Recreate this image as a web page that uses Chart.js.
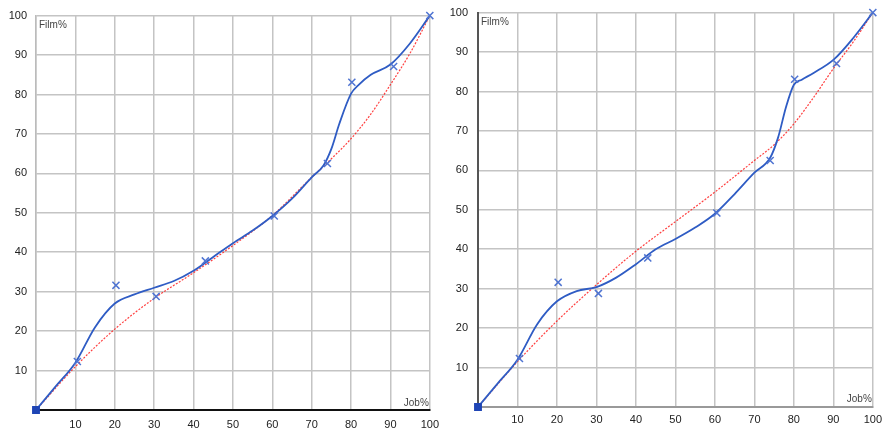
<!DOCTYPE html>
<html>
<head>
<meta charset="utf-8">
<script src="https://cdn.jsdelivr.net/npm/chart.js@4"></script>
<style>
  html, body { margin: 0; padding: 0; background: #fff; overflow: hidden; width: 884px; height: 436px; }
  .panel { position: absolute; }
</style>
</head>
<body>
<div class="panel" style="left:0; top:0; width:447px; height:436px"><canvas id="left"></canvas></div>
<div class="panel" style="left:442px; top:-4px; width:446px; height:440px"><canvas id="right"></canvas></div>
<script>
// measured points (same in both panels)
const markJob  = [0, 10.5, 20.3, 30.5, 43, 60.5, 74, 80.2, 90.8, 100];
const markFilm = [0, 12.3, 31.6, 28.8, 37.8, 49.2, 62.5, 83.1, 87.1, 100];

// blue fitted curve, left panel
const leftFitJob  = [0, 5, 10, 15, 20, 25, 30, 35, 40, 45, 50, 55, 60, 65, 70, 73, 75, 77, 80, 82, 85, 90, 95, 100];
const leftFitFilm = [0, 6, 12, 21, 27, 29.3, 31, 32.7, 35.3, 38.8, 42.3, 45.5, 49.2, 53.6, 59, 62, 66.2, 72.5, 80.2, 82.5, 85, 87.6, 93, 100];

// blue fitted curve, right panel
const rightFitJob  = [0, 5, 10, 15, 20, 25, 30, 35, 40, 45, 50, 55, 60, 65, 70, 74, 76, 78, 80, 82, 85, 90, 95, 100];
const rightFitFilm = [0, 6, 12, 21, 26.8, 29.4, 30.4, 32.8, 36.2, 40, 42.6, 45.5, 49, 54, 59.4, 63.2, 68.3, 76, 81.7, 83, 84.7, 88, 93.5, 100];

// red dotted reference curves
const refJob       = [0, 10, 20, 30, 40, 50, 60, 70, 75, 80, 85, 90, 95, 100];
const leftRefFilm  = [0, 11, 20.5, 28.3, 34.8, 41.7, 49.3, 59, 63.7, 68.8, 75, 82.5, 90.5, 100];
const rightRefFilm = [0, 11.5, 21.8, 31, 39.5, 47, 54.5, 62.5, 66.5, 71.8, 78.5, 85.8, 92.5, 100];

const axisTicks = [10, 20, 30, 40, 50, 60, 70, 80, 90, 100];
const xTitle = 'Job%';
const yTitle = 'Film%';

const pts = (xs, ys) => xs.map((x, i) => ({ x, y: ys[i] }));

// corner captions inside the plot
const captions = {
  id: 'captions',
  afterDraw(chart, args, o) {
    const { ctx, chartArea: a } = chart;
    ctx.save();
    ctx.font = '10px "Liberation Sans", Arial, sans-serif';
    ctx.fillStyle = '#444';
    ctx.textBaseline = 'middle';
    ctx.textAlign = 'left';
    ctx.fillText(yTitle, a.left + 3, a.top + 10);
    ctx.textAlign = 'right';
    ctx.fillText(xTitle, a.right - 1, a.bottom - o.jobOffset);
    ctx.restore();
  }
};

function makePanel(id, fitJob, fitFilm, refFilm, cfg) {
  const tickFont = { family: '"Liberation Sans", Arial, sans-serif', size: 11 };
  const hideZero = v => (axisTicks.includes(v) ? v : '');
  return new Chart(document.getElementById(id), {
    type: 'scatter',
    data: {
      datasets: [
        {
          label: 'points',
          data: pts(markJob, markFilm),
          showLine: false,
          clip: false,
          pointStyle: c => (c.dataIndex === 0 ? 'rect' : 'crossRot'),
          pointRadius: c => (c.dataIndex === 0 ? 4.5 : 5),
          backgroundColor: '#1f45b5',
          borderColor: c => (c.dataIndex === 0 ? '#1f45b5' : '#4f74d2'),
          pointBorderWidth: 1.5,
          order: 0,
        },
        {
          label: 'fit',
          data: pts(fitJob, fitFilm),
          showLine: true,
          borderColor: '#2f5cc4',
          borderWidth: 1.8,
          pointRadius: 0,
          cubicInterpolationMode: 'monotone',
          order: 1,
        },
        {
          label: 'ref',
          data: pts(refJob, refFilm),
          showLine: true,
          borderColor: 'rgba(255,30,30,0.85)',
          borderWidth: 1.2,
          borderDash: [2, 1.5],
          pointRadius: 0,
          cubicInterpolationMode: 'monotone',
          order: 2,
        },
      ],
    },
    options: {
      responsive: true,
      maintainAspectRatio: false,
      animation: false,
      events: [],
      layout: { padding: { top: 12, right: 12, left: 0, bottom: 0 } },
      plugins: { legend: { display: false }, tooltip: { enabled: false }, captions: { jobOffset: cfg.jobOffset } },
      scales: {
        x: {
          type: 'linear', min: 0, max: 100,
          afterFit: s => { s.height = cfg.xHeight; },
          ticks: { stepSize: 10, color: '#222', font: tickFont, padding: cfg.xPad, callback: hideZero, maxRotation: 0 },
          grid: { color: '#c4c4c4', lineWidth: 1.5, drawTicks: false },
          border: { color: cfg.xBorder, width: 2 },
        },
        y: {
          type: 'linear', min: 0, max: 100,
          afterFit: s => { s.width = 36; },
          ticks: { stepSize: 10, color: '#222', font: tickFont, padding: cfg.yPad, callback: hideZero },
          grid: { color: '#c4c4c4', lineWidth: 1.5, drawTicks: false },
          border: { color: cfg.yBorder, width: cfg.yBorderWidth },
        },
      },
    },
    plugins: [captions],
  });
}

makePanel('left', leftFitJob, leftFitFilm, leftRefFilm,
  { xHeight: 26, xPad: 8, yPad: 9, xBorder: '#111', yBorder: '#bbb', yBorderWidth: 1.5, jobOffset: 7 });
makePanel('right', rightFitJob, rightFitFilm, rightRefFilm,
  { xHeight: 29, xPad: 6, yPad: 10, xBorder: '#999', yBorder: '#555', yBorderWidth: 2, jobOffset: 8 });
</script>
</body>
</html>
